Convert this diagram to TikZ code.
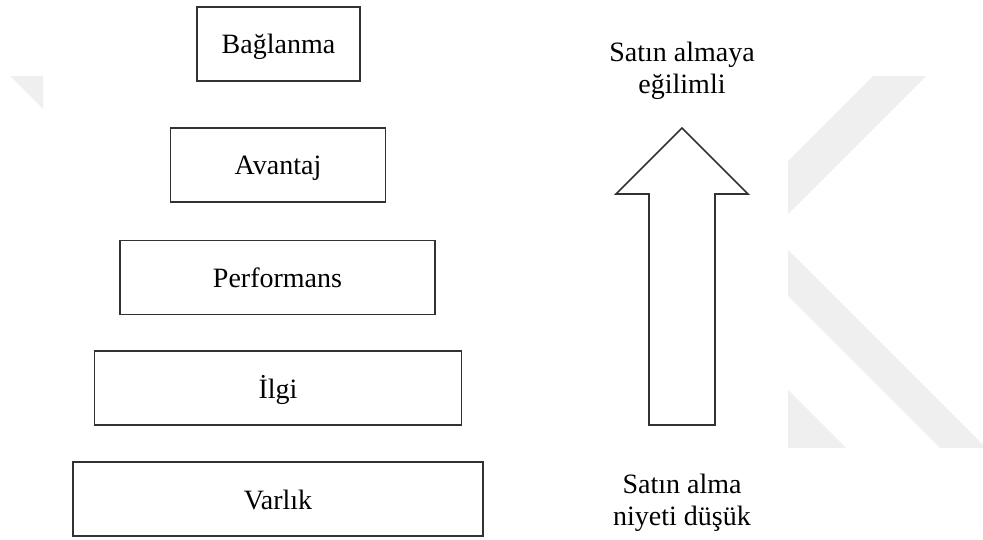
\documentclass[tikz,border=0pt]{standalone}
\usepackage{fontspec}
\setmainfont{Liberation Serif}
\definecolor{boxline}{RGB}{50,50,50}
\definecolor{wmgray}{RGB}{239,239,239}
\begin{document}
\begin{tikzpicture}[x=1pt,y=-1pt,
  level/.style={draw=boxline, line width=1.8pt, inner sep=0pt,
    minimum height=74pt, text height=20pt, text depth=0pt,
    font=\fontsize{28}{32}\selectfont},
  caption/.style={anchor=base, inner sep=0pt, font=\fontsize{28}{32}\selectfont},
  blockarrow/.style={draw=boxline, line width=1.6pt, fill=white, line join=miter},
  wmshape/.style={fill=wmgray}]

% canvas
\fill[white] (0,0) rectangle (983,540);
\useasboundingbox (0,0) rectangle (983,540);

% faint background lettering
\begin{scope}
  \clip (788,77) rectangle (983,447);
  \fill[wmshape] (1000,-51) -- (700,249) -- (700,302) -- (1000,2) -- cycle;
  \fill[wmshape] (700,162) -- (1100,562) -- (1100,608) -- (700,208) -- cycle;
  \fill[wmshape] (700,302) -- (1000,602) -- (700,602) -- cycle;
\end{scope}
\begin{scope}
  \clip (0,77) rectangle (43,122);
  \fill[wmshape] (0,66) -- (60,126) -- (60,0) -- (0,0) -- cycle;
\end{scope}

% pyramid of levels
\node[level, minimum width=163pt] (baglanma)   at (278.5,44)  {Bağlanma};
\node[level, minimum width=215pt] (avantaj)    at (278,165)   {Avantaj};
\node[level, minimum width=315pt] (performans) at (277.5,277.5) {Performans};
\node[level, minimum width=367pt] (ilgi)       at (278,388)   {İlgi};
\node[level, minimum width=410pt] (varlik)     at (278,499)   {Varlık};

% upward block arrow
\draw[blockarrow] (649,425) -- (649,194) -- (616,194) -- (682,128)
  -- (748,194) -- (715,194) -- (715,425) -- cycle;

% end labels
\node[caption] (topA) at (682,62)  {Satın almaya};
\node[caption] (topB) at (682,94)  {eğilimli};
\node[caption] (botA) at (682,493) {Satın alma};
\node[caption] (botB) at (682,525) {niyeti düşük};
\end{tikzpicture}
\end{document}
